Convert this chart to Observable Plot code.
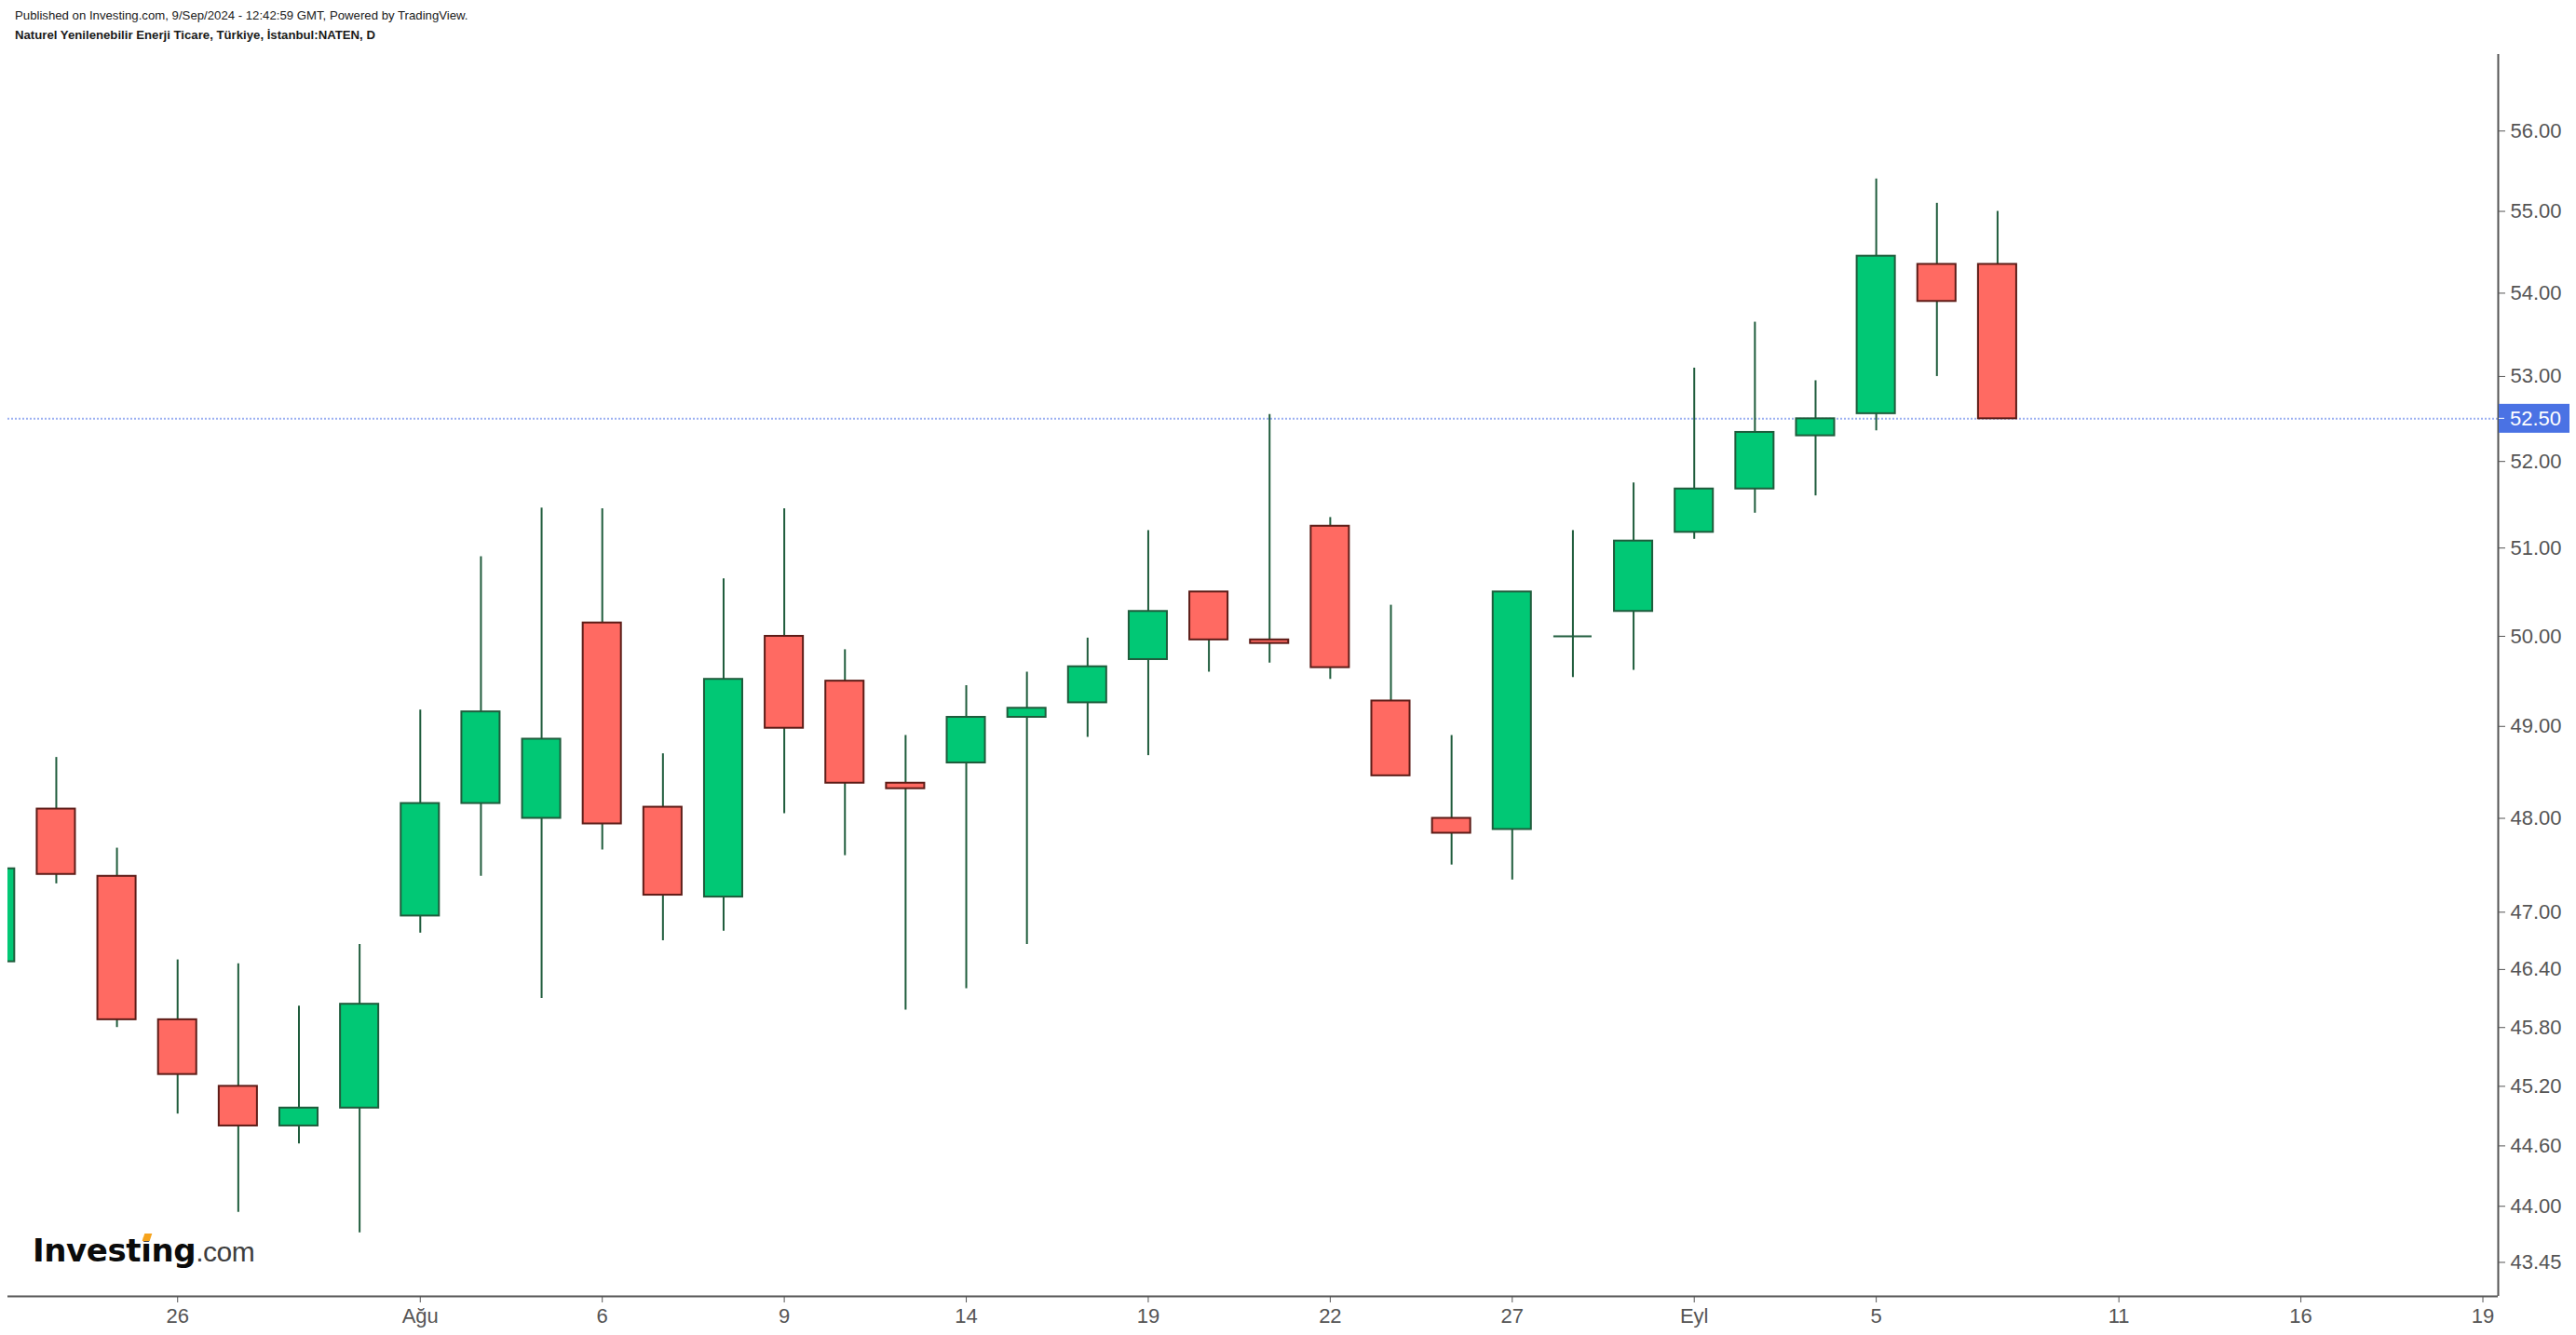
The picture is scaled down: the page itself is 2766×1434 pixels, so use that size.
<!DOCTYPE html>
<html>
<head>
<meta charset="utf-8">
<script src="https://cdn.jsdelivr.net/npm/d3@7"></script>
<script src="https://cdn.jsdelivr.net/npm/@observablehq/plot@0.6"></script>
<style>
  html, body { margin: 0; padding: 0; background: #ffffff; }
  #wrap { position: relative; width: 2766px; height: 1434px; overflow: hidden; background: #fff; }
  #header { position: relative; height: 58px; font-family: "Liberation Sans", Arial, sans-serif; color: #1a1a1a; }
  #header .l1 { position: absolute; left: 16px; top: 9px; font-size: 13.2px; line-height: 16px; white-space: nowrap; }
  #header .l2 { position: absolute; left: 16px; top: 30px; font-size: 13.2px; line-height: 16px; font-weight: bold; white-space: nowrap; }
  #chart svg { display: block; }
  #logo { position: absolute; left: 35px; top: 1326px; white-space: nowrap; line-height: 34px; }
  #logo .inv { font-family: "DejaVu Sans", sans-serif; font-weight: bold; font-size: 34px; color: #0b0b0b; letter-spacing: -0.4px; }
  #logo .dot { position: relative; }
  #logo .dot::after { content: ""; position: absolute; left: 3px; top: 2px; width: 8px; height: 8px; background: #f6a31c; transform: skewX(-18deg); }
  #logo .com { font-family: "Liberation Sans", Arial, sans-serif; font-size: 30px; color: #3d3d3d; letter-spacing: -0.5px; }
</style>
</head>
<body>
<div id="wrap">
  <div id="header">
    <div class="l1">Published on Investing.com, 9/Sep/2024 - 12:42:59 GMT, Powered by TradingView.</div>
    <div class="l2">Naturel Yenilenebilir Enerji Ticare, Türkiye, İstanbul:NATEN, D</div>
  </div>
  <div id="chart"></div>
  <div id="logo"><span class="inv">Invest<span class="dot">i</span>ng</span><span class="com">.com</span></div>
</div>
<script>
// Trading sessions (Aug 30 is a holiday); the last ones are future sessions on the axis
const sessions = ["2024-07-23","2024-07-24","2024-07-25","2024-07-26","2024-07-29","2024-07-30","2024-07-31",
  "2024-08-01","2024-08-02","2024-08-05","2024-08-06","2024-08-07","2024-08-08","2024-08-09",
  "2024-08-12","2024-08-13","2024-08-14","2024-08-15","2024-08-16","2024-08-19","2024-08-20",
  "2024-08-21","2024-08-22","2024-08-23","2024-08-26","2024-08-27","2024-08-28","2024-08-29",
  "2024-09-02","2024-09-03","2024-09-04","2024-09-05","2024-09-06","2024-09-09",
  "2024-09-10","2024-09-11","2024-09-12","2024-09-13","2024-09-16","2024-09-17","2024-09-18","2024-09-19"];

const candleDates = sessions.slice(0, 34);
const open  = [46.48, 48.10, 47.38, 45.88, 45.20, 44.80, 44.98, 46.96, 48.16, 48.00, 50.15, 48.12, 47.16, 50.00, 49.50, 48.38, 48.60, 49.10, 49.26, 49.74, 50.50, 49.96, 51.25, 49.28, 48.00, 47.88, 50.00, 50.28, 51.18, 51.68, 52.30, 52.56, 54.35, 54.35];
const high  = [47.46, 48.66, 47.68, 46.50, 46.46, 46.02, 46.66, 49.18, 50.90, 51.46, 51.45, 48.70, 50.65, 51.45, 49.85, 48.90, 49.45, 49.60, 49.98, 51.20, 50.50, 52.55, 51.35, 50.35, 48.90, 50.50, 51.20, 51.75, 53.10, 53.65, 52.95, 55.40, 55.10, 55.00];
const low   = [46.48, 47.30, 45.80, 44.92, 43.94, 44.62, 43.74, 46.78, 47.38, 46.10, 47.66, 46.70, 46.80, 48.05, 47.60, 45.98, 46.20, 46.66, 48.88, 48.68, 49.60, 49.70, 49.52, 48.46, 47.50, 47.34, 49.54, 49.62, 51.10, 51.40, 51.60, 52.36, 53.00, 52.50];
const close = [47.46, 47.40, 45.88, 45.32, 44.80, 44.98, 46.04, 48.16, 49.16, 48.86, 47.94, 47.18, 49.52, 48.98, 48.38, 48.32, 49.10, 49.20, 49.66, 50.28, 49.96, 49.92, 49.65, 48.46, 47.84, 50.50, 50.00, 51.08, 51.68, 52.34, 52.50, 54.45, 53.90, 52.50];

const tickDates  = ["2024-07-26","2024-08-01","2024-08-06","2024-08-09","2024-08-14","2024-08-19","2024-08-22","2024-08-27","2024-09-02","2024-09-05","2024-09-11","2024-09-16","2024-09-19"];
const tickLabels = ["26","Ağu","6","9","14","19","22","27","Eyl","5","11","16","19"];
const yTicks = [43.45, 44, 44.6, 45.2, 45.8, 46.4, 47, 48, 49, 50, 51, 52, 53, 54, 55, 56];
const lastPrice = 52.50;

const candles = candleDates.map((d, i) => ({
  j: sessions.indexOf(d), o: open[i], h: high[i], l: low[i], c: close[i]
}));
const up = candles.filter(d => d.c > d.o);
const down = candles.filter(d => d.c < d.o);
const doji = candles.filter(d => d.c === d.o);

const tickIdx = tickDates.map(d => sessions.indexOf(d));
const labelOf = new Map(tickIdx.map((j, k) => [j, tickLabels[k]]));

const W = 2766, H = 1376, mL = 8, mR = 84, mT = 0, mB = 42;
const xDomain = [0.2026, 41.253];
const yDomain = [43.12, 56.97];
const half = 0.315;
const wick = "#1f5c3c";
const axisColor = "#555555";

const chart = Plot.plot({
  width: W, height: H,
  marginLeft: mL, marginRight: mR, marginTop: mT, marginBottom: mB,
  style: { fontFamily: "'Liberation Sans', Arial, sans-serif", fontSize: "22px", color: axisColor, background: "transparent", overflow: "visible" },
  x: { type: "linear", domain: xDomain, ticks: tickIdx, tickFormat: j => labelOf.get(j), tickSize: 7, tickPadding: 6, label: null },
  y: { type: "log", domain: yDomain, axis: "right", ticks: yTicks, tickFormat: d => d.toFixed(2), tickSize: 7, tickPadding: 6, label: null },
  marks: [
    Plot.ruleY([lastPrice], { stroke: "#9cb0f2", strokeWidth: 2, strokeDasharray: "2,2" }),
    Plot.ruleX(candles, { x: "j", y1: "l", y2: "h", stroke: wick, strokeWidth: 2, clip: true }),
    Plot.rect(up, { x1: d => d.j - half, x2: d => d.j + half, y1: "o", y2: "c", fill: "#01c875", stroke: "#1f5c3c", strokeWidth: 2, clip: true }),
    Plot.rect(down, { x1: d => d.j - half, x2: d => d.j + half, y1: "o", y2: "c", fill: "#ff6a62", stroke: "#5d1c17", strokeWidth: 2, clip: true }),
    Plot.ruleY(doji, { y: "o", x1: d => d.j - half, x2: d => d.j + half, stroke: wick, strokeWidth: 2 }),
    Plot.ruleX([xDomain[1]], { stroke: axisColor, strokeWidth: 2 }),
    Plot.ruleY([yDomain[0]], { stroke: axisColor, strokeWidth: 2 })
  ]
});
document.getElementById("chart").append(chart);

// Last price label on the right axis
const yPix = chart.scale("y").apply(lastPrice);
const xr = W - mR;
const g = d3.select(chart).append("g").attr("text-anchor", "start");
g.append("rect").attr("x", xr + 1).attr("y", yPix - 15.5).attr("width", 76).attr("height", 31).attr("fill", "#4a72e4");
g.append("line").attr("x1", xr + 1).attr("x2", xr + 7).attr("y1", yPix).attr("y2", yPix).attr("stroke", "#ffffff").attr("stroke-width", 1);
g.append("text").attr("x", xr + 13).attr("y", yPix).attr("dy", "0.35em").attr("text-anchor", "start")
  .attr("fill", "#ffffff").attr("font-size", 22).attr("font-family", "'Liberation Sans', Arial, sans-serif")
  .text(lastPrice.toFixed(2));
</script>
</body>
</html>
